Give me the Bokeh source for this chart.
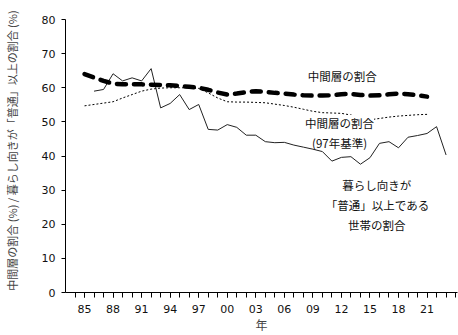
from bokeh.plotting import figure
from bokeh.models import FixedTicker, Label
from bokeh.embed import file_html
from bokeh.resources import INLINE

# ---- data ----
years_mid = list(range(1985, 2022))
middle_share = [64.0, 63.0, 62.0, 61.2, 61.0, 61.0, 61.0, 60.9, 60.8, 60.7, 60.5, 60.3,
                60.0, 59.4, 58.6, 58.0, 58.3, 58.7, 59.0, 58.8, 58.5, 58.3, 58.0, 57.8,
                57.7, 57.7, 57.8, 58.1, 58.2, 57.9, 57.7, 57.8, 58.1, 58.3, 58.1, 57.8, 57.4]

years_97 = list(range(1985, 2022))
middle_share_97 = [54.7, 55.1, 55.5, 55.9, 57.0, 58.0, 59.0, 59.6, 59.9, 60.0, 60.0, 60.0,
                   59.8, 58.5, 57.0, 55.9, 55.8, 55.8, 55.7, 55.6, 55.2, 54.8, 54.3, 53.7,
                   53.1, 52.7, 52.6, 52.5, 52.0, 51.2, 50.6, 51.0, 51.4, 51.7, 51.9, 52.1, 52.2]

years_normal = list(range(1986, 2024))
normal_share = [59.0, 59.5, 64.1, 62.0, 62.9, 62.0, 65.6, 54.1, 55.4, 58.0, 53.6, 55.1,
                47.8, 47.6, 49.2, 48.4, 46.1, 46.1, 44.2, 43.9, 44.0, 43.2, 42.6, 42.0,
                41.3, 38.5, 39.6, 39.8, 37.6, 39.5, 43.7, 44.2, 42.4, 45.5, 46.0, 46.6,
                48.6, 40.3]

label_years = list(range(1985, 2022, 3))
label_texts = ["85", "88", "91", "94", "97", "00", "03", "06", "09", "12", "15", "18", "21"]
all_tick_years = list(range(1984, 2025))
y_ticks = list(range(0, 81, 10))

y_title = "中間層の割合 (%) / 暮らし向きが「普通」以上の割合 (%)"
x_title = "年"

# ---- figure ----
p = figure(width=458, height=335, x_range=(1983, 2024.2), y_range=(0, 80),
           output_backend="svg", toolbar_location=None,
           min_border_left=59, min_border_right=1, min_border_top=19, min_border_bottom=42)
p.outline_line_color = None
p.xgrid.grid_line_color = None
p.ygrid.grid_line_color = None
p.background_fill_color = "white"
p.border_fill_color = "white"

jp = "Noto Sans CJK JP"
num_font = "DejaVu Sans"

# x axis
xa = p.xaxis[0]
xa.ticker = FixedTicker(ticks=label_years, minor_ticks=all_tick_years)
xa.major_label_overrides = {y: t for y, t in zip(label_years, label_texts)}
xa.major_tick_in = 0
xa.major_tick_out = 5
xa.minor_tick_in = 0
xa.minor_tick_out = 5
xa.major_label_standoff = 7
xa.major_label_text_font = num_font
xa.major_label_text_font_size = "11px"
xa.major_label_text_color = "#111111"
xa.axis_label = x_title
xa.axis_label_text_font = jp
xa.axis_label_text_font_size = "12px"
xa.axis_label_text_font_style = "normal"
xa.axis_label_standoff = 0
xa.axis_line_color = "black"
xa.major_tick_line_color = "black"
xa.minor_tick_line_color = "black"

# y axis
ya = p.yaxis[0]
ya.ticker = FixedTicker(ticks=y_ticks, minor_ticks=[])
ya.major_tick_in = 0
ya.major_tick_out = 4
ya.minor_tick_line_color = None
ya.major_label_standoff = 6
ya.major_label_text_font = num_font
ya.major_label_text_font_size = "11px"
ya.major_label_text_color = "#111111"
ya.axis_label = "\u3000" + y_title
ya.axis_label_text_font = jp
ya.axis_label_text_font_size = "11px"
ya.axis_label_text_font_style = "normal"
ya.axis_label_standoff = 19
ya.axis_line_color = "black"
ya.major_tick_line_color = "black"

# lines
p.line(years_97, middle_share_97, line_color="black", line_width=1, line_dash="2 2")
p.line(years_normal, normal_share, line_color="#222222", line_width=1)
p.line(years_mid, middle_share, line_color="black", line_width=4.5, line_dash="9 8",
       line_cap="round")

# labels
def add_label(x, y, text, bg=None, size="11.5px"):
    lab = Label(x=x, y=y, text=text, text_font=jp, text_font_size=size,
                text_align="center", text_baseline="middle", text_color="#111111")
    if bg:
        lab.background_fill_color = bg
    p.add_layout(lab)

add_label(2012.1, 63.4, "中間層の割合")
add_label(2011.8, 49.7, "中間層の割合", bg="white")
add_label(2011.8, 43.8, "(97年基準)")
add_label(2015.7, 31.5, "暮らし向きが")
add_label(2015.8, 25.7, "「普通」以上である")
add_label(2015.7, 19.9, "世帯の割合")

open("out.html", "w").write(file_html(p, INLINE))
